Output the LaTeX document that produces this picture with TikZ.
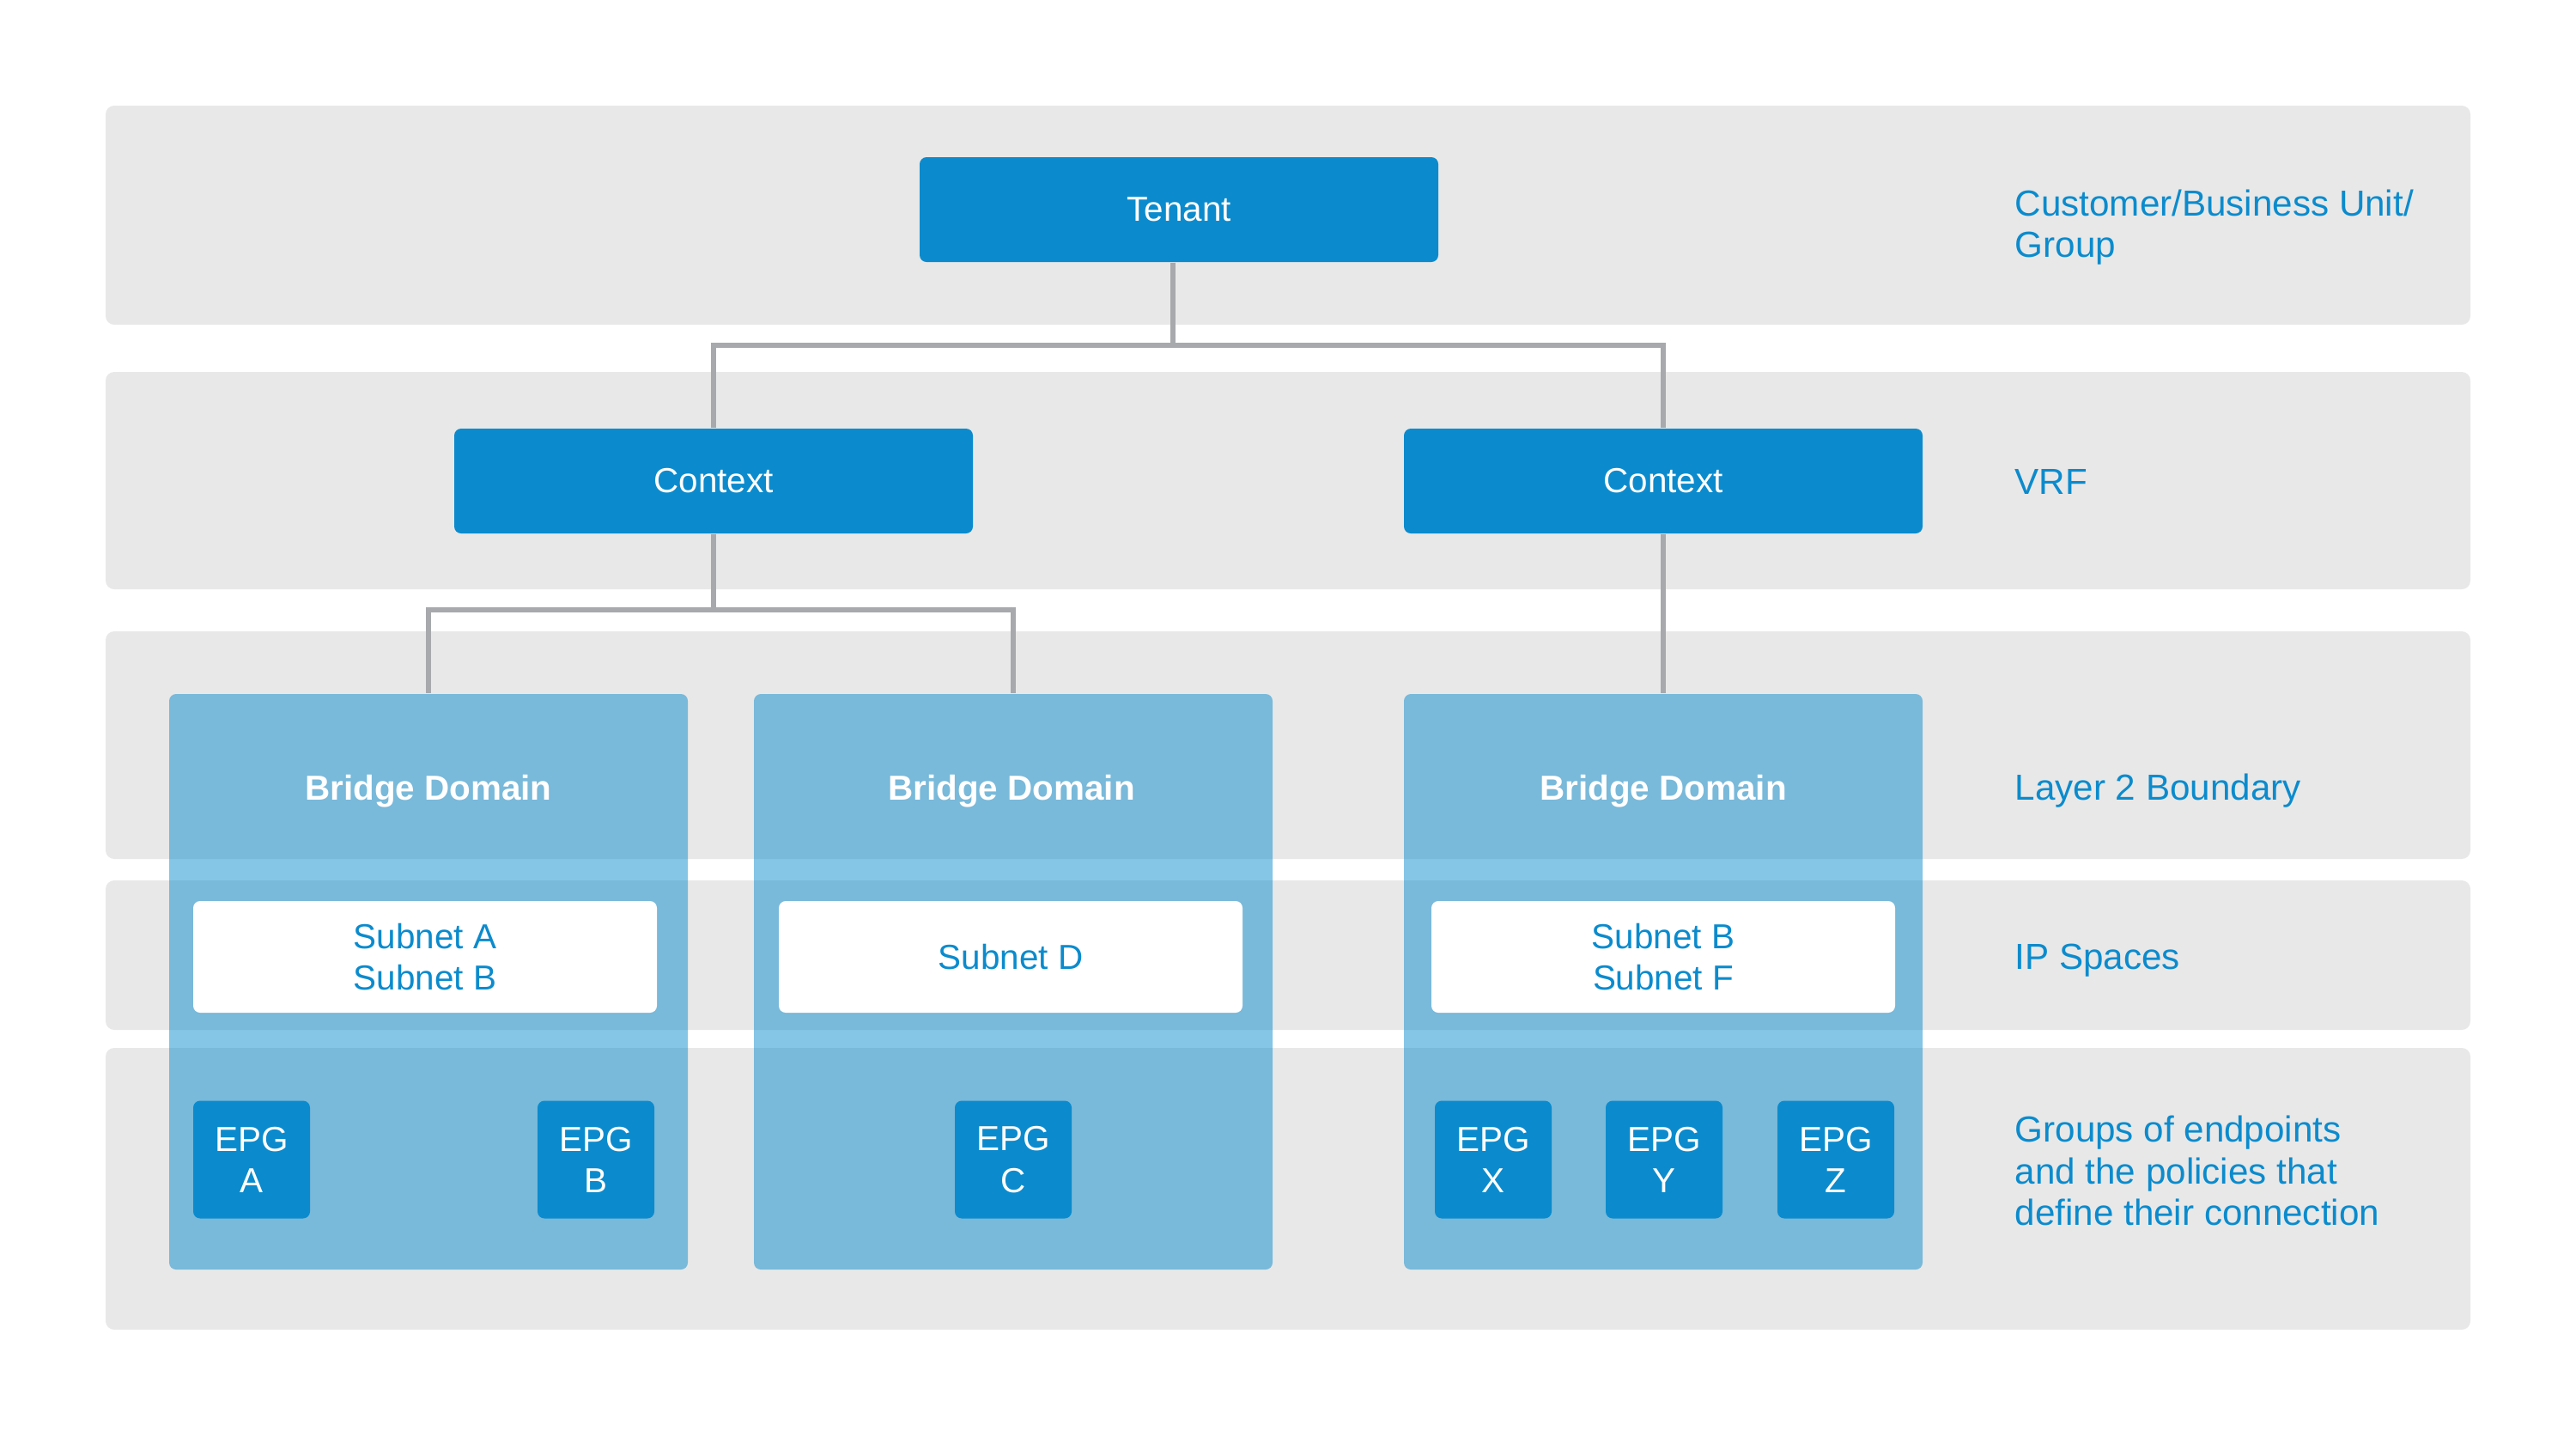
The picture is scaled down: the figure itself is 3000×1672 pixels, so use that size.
\documentclass[tikz,border=0pt]{standalone}
\usepackage{fontspec}
\setmainfont{Liberation Sans}
\usepackage{xcolor}
\usepackage{tikz}
\usetikzlibrary{positioning, calc, backgrounds}

\definecolor{aciblue}{HTML}{0B8BCD}
\definecolor{bandgrey}{HTML}{E8E8E8}
\definecolor{linegrey}{HTML}{A7A9AC}

\newcommand{\diagfont}{\fontsize{11.5pt}{13.7pt}\selectfont}
\newcommand{\labelfont}{\fontsize{12pt}{13.7pt}\selectfont}

\tikzset{
    band/.style={fill=bandgrey, rounded corners=1mm},
    objbox/.style={
        fill=aciblue, text=white, rounded corners=0.8mm, inner sep=0pt,
        minimum width=60.4mm, minimum height=12.2mm, font=\diagfont
    },
    bdbox/.style={
        fill=aciblue, fill opacity=0.5, rounded corners=0.8mm, inner sep=0pt,
        minimum width=60.4mm, minimum height=67mm
    },
    bdtitle/.style={text=white, inner sep=0pt, font=\diagfont\bfseries},
    subnetbox/.style={
        fill=white, text=aciblue, rounded corners=0.8mm, inner sep=0pt,
        minimum width=54mm, minimum height=13mm, align=center, font=\diagfont
    },
    epgbox/.style={
        fill=aciblue, text=white, rounded corners=0.8mm, inner sep=0pt,
        minimum width=13.6mm, minimum height=13.7mm, align=center, font=\diagfont
    },
    layertext/.style={
        anchor=west, align=left, inner sep=0pt, text=aciblue, font=\labelfont
    },
    link/.style={draw=linegrey, line width=0.6mm}
}

\begin{document}
\begin{tikzpicture}[x=0.1mm, y=-0.1mm]
    \useasboundingbox (0,0) rectangle (3000,1672);

    % grey layer bands
    \foreach \ytop/\ybot in {123/378, 433/686, 735/1000, 1025/1199, 1220/1548}
        \fill[band] (123,\ytop) rectangle (2877,\ybot);

    % tenant and contexts
    \node[objbox] (tenant) at (1373,244) {Tenant};
    \node[objbox] (ctxL) at (831,560) {Context};
    \node[objbox] (ctxR) at (1937,560) {Context};

    % bridge domains
    \node[bdbox] (bd1) at (499,1143) {};
    \node[bdbox] (bd2) at (1180,1143) {};
    \node[bdbox] (bd3) at (1937,1143) {};
    \node[bdtitle] (bdt1) at (499,921) {Bridge Domain};
    \node[bdtitle] (bdt2) at (1178,921) {Bridge Domain};
    \node[bdtitle] (bdt3) at (1937,921) {Bridge Domain};

    % connectors
    \coordinate (tj) at (1366,402);
    \coordinate (cj) at (831,710);
    \draw[link] (tj |- tenant.south) -- (tj) -| (ctxL.north);
    \draw[link] (tj) -| (ctxR.north);
    \draw[link] (ctxL.south) -- (cj) -| (bd1.north);
    \draw[link] (cj) -| (bd2.north);
    \draw[link] (ctxR.south) -- (bd3.north);

    % subnets
    \node[subnetbox] (sn1) at (495,1114) {Subnet A\\Subnet B};
    \node[subnetbox] (sn2) at (1177,1114) {Subnet D};
    \node[subnetbox] (sn3) at (1937,1114) {Subnet B\\Subnet F};

    % endpoint groups
    \node[epgbox] (epgA) at (293,1350) {EPG\\A};
    \node[epgbox] (epgB) at (694,1350) {EPG\\B};
    \node[epgbox] (epgC) at (1180,1350) {EPG\\C};
    \node[epgbox] (epgX) at (1739,1350) {EPG\\X};
    \node[epgbox] (epgY) at (1938,1350) {EPG\\Y};
    \node[epgbox] (epgZ) at (2138,1350) {EPG\\Z};

    % layer descriptions
    \node[layertext] (lblTenant) at (2346,265) {Customer/Business Unit/\\Group};
    \node[layertext] (lblVrf) at (2346,561) {VRF};
    \node[layertext] (lblBd) at (2346,921) {Layer 2 Boundary};
    \node[layertext] (lblIp) at (2346,1118) {IP Spaces};
    \node[layertext] (lblEpg) at (2346,1363) {Groups of endpoints\\and the policies that\\define their connection};
\end{tikzpicture}
\end{document}
